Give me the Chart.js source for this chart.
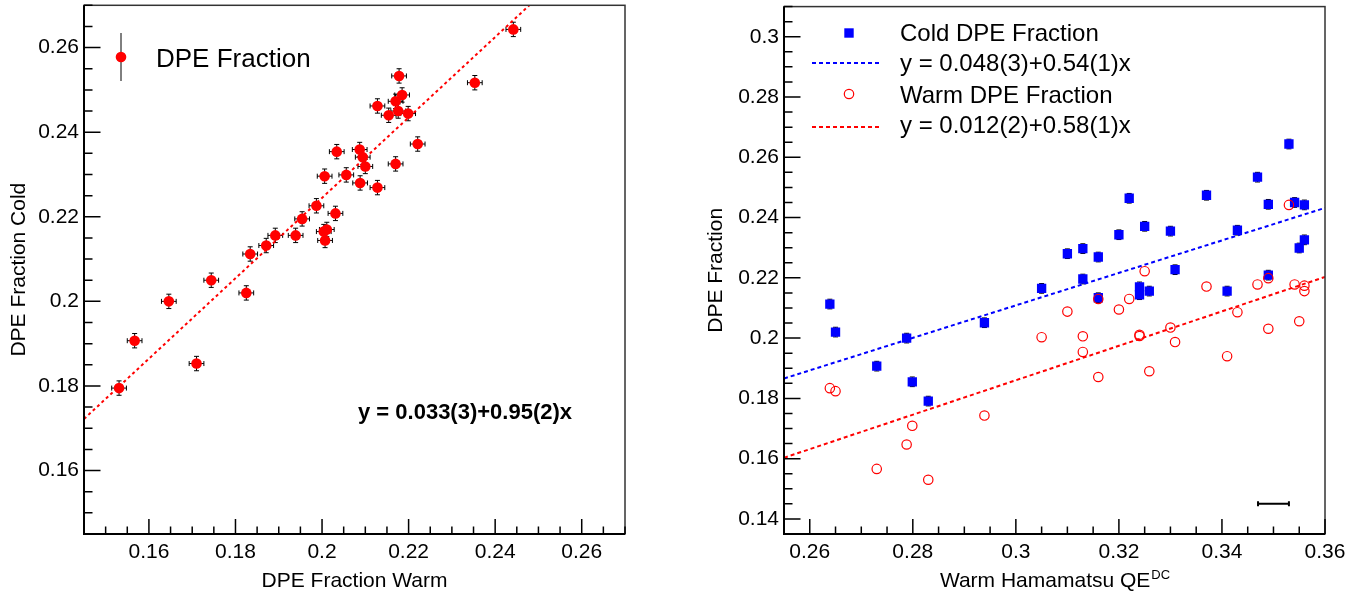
<!DOCTYPE html>
<html>
<head>
<meta charset="utf-8">
<script src="https://cdn.jsdelivr.net/npm/chart.js@4.4.1/dist/chart.umd.min.js"></script>
<style>
  html, body { margin: 0; padding: 0; background: #fff; }
  #wrap { position: relative; width: 1370px; height: 598px; }
  .pane { position: absolute; top: 0; width: 685px; height: 598px; }
</style>
</head>
<body>
<div id="wrap">
  <div class="pane" style="left:0"><canvas id="left" width="685" height="598"></canvas></div>
  <div class="pane" style="left:685px"><canvas id="right" width="685" height="598"></canvas></div>
</div>
<script>
// ---- left panel: cold vs warm DPE fraction, one point per PMT ----
const warmFrac = [0.1531, 0.1567, 0.1646, 0.1710, 0.1744, 0.1825, 0.1834, 0.1871, 0.1892, 0.1939,
                  0.1954, 0.1987, 0.2006, 0.2031, 0.2004, 0.2011, 0.2007, 0.2034, 0.2056, 0.2087,
                  0.2094, 0.2100, 0.2088, 0.2128, 0.2128, 0.2170, 0.2221, 0.2154, 0.2176, 0.2199,
                  0.2170, 0.2185, 0.2178, 0.2353, 0.2442];
const coldFrac = [0.1795, 0.1907, 0.2000, 0.1853, 0.2050, 0.2020, 0.2112, 0.2132, 0.2156, 0.2156,
                  0.2195, 0.2226, 0.2296, 0.2208, 0.2165, 0.2170, 0.2144, 0.2354, 0.2299, 0.2359,
                  0.2341, 0.2319, 0.2280, 0.2269, 0.2462, 0.2325, 0.2372, 0.2440, 0.2450, 0.2444,
                  0.2473, 0.2488, 0.2533, 0.2517, 0.2643];
const fracErr = 0.0017;
const fitLeftX = [0.145, 0.2479];
const fitLeftY = [0.1722, 0.27];
const leftTicks = [0.16, 0.18, 0.2, 0.22, 0.24, 0.26];

// ---- right panel: DPE fraction vs warm QE ----
const qeWarm = [0.2639, 0.2650, 0.2788, 0.2730, 0.2799, 0.2830, 0.2939, 0.3050, 0.3100, 0.3130,
                0.3160, 0.3130, 0.3160, 0.3200, 0.3220, 0.3250, 0.3300, 0.3309, 0.3240, 0.3240,
                0.3259, 0.3370, 0.3430, 0.3410, 0.3469, 0.3490, 0.3530, 0.3541, 0.3560, 0.3560,
                0.3550, 0.3490];
const coldDPE = [0.2113, 0.2020, 0.2000, 0.1907, 0.1855, 0.1791, 0.2051, 0.2165, 0.2280, 0.2297,
                 0.2269, 0.2196, 0.2134, 0.2343, 0.2464, 0.2371, 0.2355, 0.2227, 0.2170, 0.2144,
                 0.2156, 0.2474, 0.2358, 0.2156, 0.2534, 0.2444, 0.2644, 0.2450, 0.2442, 0.2326,
                 0.2299, 0.2209];
const warmDPE = [0.1834, 0.1824, 0.1647, 0.1566, 0.1709, 0.1530, 0.1743, 0.2003, 0.2088, 0.2006,
                 0.2130, 0.1954, 0.1871, 0.2095, 0.2130, 0.2222, 0.2035, 0.1987, 0.2011, 0.2007,
                 0.1890, 0.2171, 0.2086, 0.1940, 0.2178, 0.2199, 0.2442, 0.2178, 0.2156, 0.2174,
                 0.2056, 0.2031];
const fitColdX = [0.255, 0.36];
const fitColdY = [0.1866, 0.2432];
const fitWarmX = [0.255, 0.36];
const fitWarmY = [0.1603, 0.2203];
const qeErrBarX = [0.347, 0.353];
const qeErrBarY = 0.145;
const rightXTicks = [0.26, 0.28, 0.3, 0.32, 0.34, 0.36];
const rightYTicks = [0.14, 0.16, 0.18, 0.2, 0.22, 0.24, 0.26, 0.28, 0.3];

const FONT = '"Liberation Sans", Arial, Helvetica, sans-serif';

function niceLabel(v) {
    return String(Math.round(v * 1000) / 1000);
}

function pairs(xs, ys) {
    return xs.map((x, i) => ({x: x, y: ys[i]}));
}

/**
 * ROOT-like decorations: frame, inward ticks, error bars, texts
 */
function makeDecor(drawTexts) {
    return {
        id: 'decor',
        beforeDatasetsDraw(chart) {
            const ctx = chart.ctx, xs = chart.scales.x, ys = chart.scales.y;
            ctx.save();
            ctx.strokeStyle = '#000';
            ctx.lineWidth = 1;
            chart.data.datasets.forEach((ds) => {
                if (!ds.errX && !ds.errY) return;
                ds.data.forEach((p) => {
                    const px = xs.getPixelForValue(p.x), py = ys.getPixelForValue(p.y);
                    ctx.beginPath();
                    if (ds.errX) {
                        const x1 = xs.getPixelForValue(p.x - ds.errX), x2 = xs.getPixelForValue(p.x + ds.errX);
                        ctx.moveTo(x1, py); ctx.lineTo(x2, py);
                        ctx.moveTo(x1, py - 2.5); ctx.lineTo(x1, py + 2.5);
                        ctx.moveTo(x2, py - 2.5); ctx.lineTo(x2, py + 2.5);
                    }
                    if (ds.errY) {
                        const y1 = ys.getPixelForValue(p.y - ds.errY), y2 = ys.getPixelForValue(p.y + ds.errY);
                        ctx.moveTo(px, y1); ctx.lineTo(px, y2);
                        ctx.moveTo(px - 2.5, y1); ctx.lineTo(px + 2.5, y1);
                        ctx.moveTo(px - 2.5, y2); ctx.lineTo(px + 2.5, y2);
                    }
                    ctx.stroke();
                });
            });
            ctx.restore();
        },
        afterDraw(chart) {
            const ctx = chart.ctx, a = chart.chartArea;
            const xs = chart.scales.x, ys = chart.scales.y;
            ctx.save();
            // frame
            ctx.strokeStyle = '#333';
            ctx.lineWidth = 1.5;
            ctx.strokeRect(a.left, a.top, a.right - a.left, a.bottom - a.top);
            ctx.strokeStyle = '#000';
            ctx.lineWidth = 2;
            ctx.beginPath();
            ctx.moveTo(a.left, a.top); ctx.lineTo(a.left, a.bottom); ctx.lineTo(a.right, a.bottom);
            ctx.stroke();
            // ticks, minor every 0.005, major every 0.02
            ctx.lineWidth = 1.5;
            ctx.beginPath();
            for (let k = Math.ceil(xs.min / 0.005 - 1e-6); k * 0.005 <= xs.max + 1e-9; k++) {
                const px = xs.getPixelForValue(k * 0.005);
                const len = (k % 4 === 0) ? 15 : 7.5;
                ctx.moveTo(px, a.bottom); ctx.lineTo(px, a.bottom - len);
            }
            for (let k = Math.ceil(ys.min / 0.005 - 1e-6); k * 0.005 <= ys.max + 1e-9; k++) {
                const py = ys.getPixelForValue(k * 0.005);
                const len = (k % 4 === 0) ? 16.5 : 8.5;
                ctx.moveTo(a.left, py); ctx.lineTo(a.left + len, py);
            }
            ctx.stroke();
            ctx.restore();
            ctx.save();
            ctx.fillStyle = '#000';
            drawTexts(ctx, a);
            ctx.restore();
        }
    };
}

function scaleOpts(min, max, ticks, horiz, size, pad) {
    return {
        type: 'linear',
        min: min,
        max: max,
        grid: {display: false, drawTicks: false},
        border: {display: false},
        afterBuildTicks: (s) => { s.ticks = ticks.map((v) => ({value: v})); },
        afterFit: (s) => {
            if (horiz) s.height = size; else s.width = size;
            s.paddingTop = 0; s.paddingBottom = 0; s.paddingLeft = 0; s.paddingRight = 0;
        },
        ticks: {
            padding: pad,
            color: '#000',
            autoSkip: false,
            maxRotation: 0,
            font: {family: FONT, size: 21},
            callback: (v) => niceLabel(v)
        }
    };
}

// ---------- left chart ----------
new Chart(document.getElementById('left'), {
    type: 'scatter',
    data: {
        datasets: [{
            data: pairs(fitLeftX, fitLeftY),
            showLine: true,
            borderColor: '#ff0000',
            borderWidth: 2,
            borderDash: [3, 3],
            pointRadius: 0
        }, {
            data: pairs(warmFrac, coldFrac),
            errX: fracErr,
            errY: fracErr,
            pointStyle: 'circle',
            pointRadius: 5.3,
            backgroundColor: '#ff0000',
            borderColor: '#ff0000',
            borderWidth: 0
        }]
    },
    options: {
        responsive: false,
        animation: false,
        layout: {padding: {left: 0, right: 60, top: 3, bottom: 0}},
        plugins: {legend: {display: false}, tooltip: {enabled: false}},
        scales: {
            x: scaleOpts(0.145, 0.27, leftTicks, true, 64, 6),
            y: scaleOpts(0.145, 0.27, leftTicks, false, 84, 5)
        }
    },
    plugins: [makeDecor((ctx, a) => {
        // legend
        ctx.strokeStyle = '#000';
        ctx.lineWidth = 1;
        ctx.beginPath(); ctx.moveTo(121, 33); ctx.lineTo(121, 81); ctx.stroke();
        ctx.fillStyle = '#ff0000';
        ctx.beginPath(); ctx.arc(121, 57, 5.3, 0, Math.PI * 2); ctx.fill();
        ctx.fillStyle = '#000';
        ctx.font = '26px ' + FONT;
        ctx.textAlign = 'left';
        ctx.textBaseline = 'alphabetic';
        ctx.fillText('DPE Fraction', 156, 67);
        // fit result
        ctx.font = 'bold 22px ' + FONT;
        ctx.fillText('y = 0.033(3)+0.95(2)x', 358, 419);
        // axis titles
        ctx.font = '21px ' + FONT;
        ctx.textAlign = 'center';
        ctx.fillText('DPE Fraction Warm', (a.left + a.right) / 2, 587);
        ctx.translate(25, (a.top + a.bottom) / 2);
        ctx.rotate(-Math.PI / 2);
        ctx.fillText('DPE Fraction Cold', 0, 0);
    })]
});

// ---------- right chart ----------
new Chart(document.getElementById('right'), {
    type: 'scatter',
    data: {
        datasets: [{
            data: pairs(fitColdX, fitColdY),
            showLine: true,
            borderColor: '#0000ff',
            borderWidth: 2,
            borderDash: [4, 3],
            pointRadius: 0
        }, {
            data: pairs(fitWarmX, fitWarmY),
            showLine: true,
            borderColor: '#ff0000',
            borderWidth: 2,
            borderDash: [4, 3],
            pointRadius: 0
        }, {
            data: pairs(qeWarm, warmDPE),
            pointStyle: 'circle',
            pointRadius: 4.7,
            backgroundColor: 'rgba(0,0,0,0)',
            borderColor: '#ff0000',
            borderWidth: 1.2
        }, {
            data: pairs(qeWarm, coldDPE),
            errY: 0.0016,
            pointStyle: 'rect',
            pointRadius: 6.6,
            backgroundColor: '#0000ff',
            borderColor: '#0000ff',
            borderWidth: 0
        }, {
            data: qeErrBarX.map((x) => ({x: x, y: qeErrBarY})),
            showLine: true,
            borderColor: '#000',
            borderWidth: 2,
            pointStyle: 'line',
            rotation: 90,
            pointRadius: 2.5,
            pointBorderColor: '#000',
            pointBorderWidth: 2
        }]
    },
    options: {
        responsive: false,
        animation: false,
        layout: {padding: {left: 0, right: 45, top: 3, bottom: 0}},
        plugins: {legend: {display: false}, tooltip: {enabled: false}},
        scales: {
            x: scaleOpts(0.255, 0.36, rightXTicks, true, 64, 6),
            y: scaleOpts(0.135, 0.31, rightYTicks, false, 99, 5)
        }
    },
    plugins: [makeDecor((ctx, a) => {
        const lx = a.left + 65, tx = a.left + 116;
        ctx.textAlign = 'left';
        ctx.textBaseline = 'alphabetic';
        ctx.font = '24px ' + FONT;
        // legend rows
        ctx.fillStyle = '#0000ff';
        ctx.fillRect(lx - 4.7, 33 - 4.7, 9.4, 9.4);
        ctx.lineWidth = 2;
        ctx.setLineDash([4, 3]);
        ctx.strokeStyle = '#0000ff';
        ctx.beginPath(); ctx.moveTo(a.left + 28, 63); ctx.lineTo(a.left + 98, 63); ctx.stroke();
        ctx.strokeStyle = '#ff0000';
        ctx.beginPath(); ctx.moveTo(a.left + 28, 127); ctx.lineTo(a.left + 98, 127); ctx.stroke();
        ctx.setLineDash([]);
        ctx.lineWidth = 1.2;
        ctx.beginPath(); ctx.arc(lx, 94, 4.7, 0, Math.PI * 2); ctx.stroke();
        ctx.fillStyle = '#000';
        ctx.fillText('Cold DPE Fraction', tx, 40.5);
        ctx.fillText('y = 0.048(3)+0.54(1)x', tx, 71);
        ctx.fillText('Warm DPE Fraction', tx, 102.5);
        ctx.fillText('y = 0.012(2)+0.58(1)x', tx, 133);
        // x title with superscript
        ctx.font = '21px ' + FONT;
        const main = 'Warm Hamamatsu QE';
        const w1 = ctx.measureText(main).width;
        ctx.font = '13px ' + FONT;
        const w2 = ctx.measureText('DC').width;
        const x0 = (a.left + a.right) / 2 - (w1 + w2) / 2;
        ctx.font = '21px ' + FONT;
        ctx.fillText(main, x0, 587);
        ctx.font = '13px ' + FONT;
        ctx.fillText('DC', x0 + w1 + 1, 579);
        // y title
        ctx.font = '21px ' + FONT;
        ctx.textAlign = 'center';
        ctx.translate(37, (a.top + a.bottom) / 2);
        ctx.rotate(-Math.PI / 2);
        ctx.fillText('DPE Fraction', 0, 0);
    })]
});
</script>
</body>
</html>
